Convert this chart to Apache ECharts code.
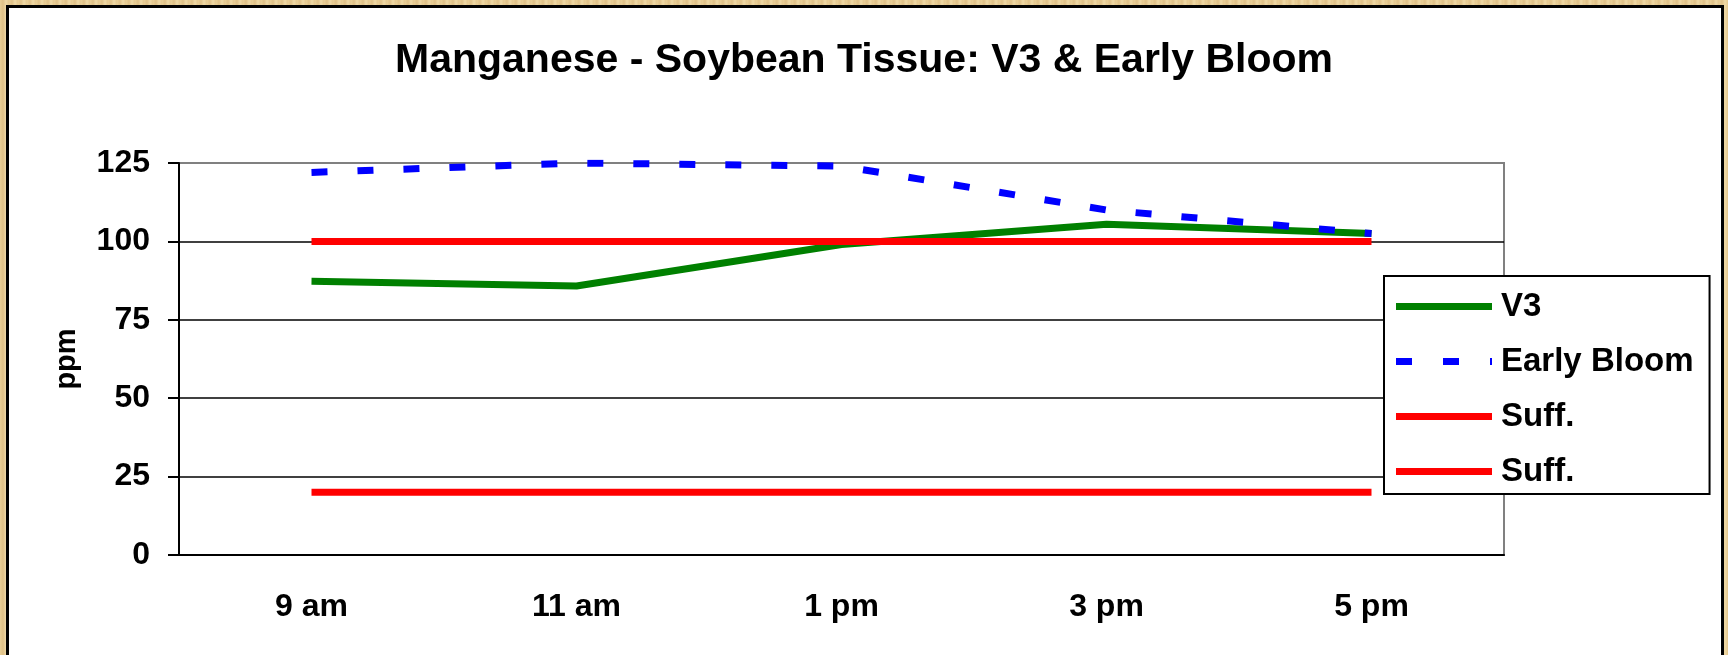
<!DOCTYPE html>
<html>
<head>
<meta charset="utf-8">
<title>Manganese - Soybean Tissue</title>
<script src="https://cdn.jsdelivr.net/npm/echarts@6/dist/echarts.min.js"></script>
<style>
  html, body { margin: 0; padding: 0; }
  body {
    width: 1728px; height: 655px; overflow: hidden; position: relative;
    background: repeating-linear-gradient(90deg, #e9cf97 0px, #dfc087 3px, #efd9a6 6px, #e4c78e 9px);
  }
  #frame {
    position: absolute; left: 6px; top: 5px; width: 1718px; height: 700px;
    box-sizing: border-box; border: 3px solid #000; background: #fff;
  }
  #mnChart { position: absolute; left: 0; top: 0; width: 1728px; height: 655px; }
</style>
</head>
<body>
<div id="frame"></div>
<div id="mnChart"></div>
<script>
// 时间点
const categories = ['9 am', '11 am', '1 pm', '3 pm', '5 pm']
// ppm values
const v3Values = [87.3, 85.8, 99, 105.5, 102.5]
const earlyBloomValues = [122, 125, 124, 110, 102.5]
const suffHigh = [100, 100, 100, 100, 100]
const suffLow = [20, 20, 20, 20, 20]
const yTicks = [0, 25, 50, 75, 100, 125]

const font = '"Liberation Sans", Arial, sans-serif'
// legend icons: solid bar, and dashed bar like the Excel one
const solidIcon = 'rect'
const dashIcon = 'path://M0,0h16v7h-16zM47,0h16v7h-16zM94,0h2v7h-2z'

const mnChart = echarts.init(document.getElementById('mnChart'))
mnChart.setOption({
    animation: false,
    backgroundColor: 'rgba(0,0,0,0)',
    textStyle: { fontFamily: font },
    title: {
        text: 'Manganese - Soybean Tissue: V3 & Early Bloom',
        left: 'center',
        top: 35,
        textStyle: { fontFamily: font, fontSize: 41, fontWeight: 'bold', color: '#000' }
    },
    legend: {
        orient: 'vertical',
        left: 1384,
        top: 276,
        padding: [14, 16, 6, 12],
        itemWidth: 96,
        itemHeight: 7,
        itemGap: 22,
        backgroundColor: '#fff',
        borderColor: '#000',
        borderWidth: 2,
        selectedMode: false,
        formatter: function (name) { return name.trim() },
        textStyle: { fontFamily: font, fontSize: 33, fontWeight: 'bold', color: '#000', lineHeight: 33, padding: [0, 0, 0, 4] },
        data: [
            { name: 'V3', icon: solidIcon },
            { name: 'Early Bloom', icon: dashIcon },
            { name: 'Suff.', icon: solidIcon },
            { name: 'Suff. ', icon: solidIcon }
        ]
    },
    grid: {
        left: 179,
        right: 224,
        top: 163,
        bottom: 100,
        show: true,
        backgroundColor: '#fff',
        borderColor: '#808080',
        borderWidth: 2
    },
    xAxis: {
        type: 'category',
        data: categories,
        boundaryGap: true,
        axisLine: { lineStyle: { color: '#000', width: 2 } },
        axisTick: { length: 11, lineStyle: { color: '#000', width: 2 } },
        axisLabel: { margin: 36, fontFamily: font, fontSize: 32, fontWeight: 'bold', color: '#000' },
        splitLine: { show: false }
    },
    yAxis: {
        type: 'value',
        min: yTicks[0],
        max: yTicks[yTicks.length - 1],
        interval: 25,
        name: 'ppm',
        nameLocation: 'middle',
        nameGap: 98,
        nameTextStyle: { fontFamily: font, fontSize: 29, fontWeight: 'bold', color: '#000' },
        axisLine: { show: true, lineStyle: { color: '#000', width: 2 } },
        axisTick: { show: true, length: 11, lineStyle: { color: '#000', width: 2 } },
        axisLabel: { margin: 29, fontFamily: font, fontSize: 32, fontWeight: 'bold', color: '#000' },
        splitLine: { show: true, showMaxLine: false, lineStyle: { color: '#000', width: 1.5 } }
    },
    series: [
        {
            name: 'V3',
            type: 'line',
            data: v3Values,
            symbol: 'none',
            color: '#008000',
            lineStyle: { color: '#008000', width: 7 }
        },
        {
            name: 'Early Bloom',
            type: 'line',
            data: earlyBloomValues,
            symbol: 'none',
            color: '#0000ff',
            lineStyle: { color: '#0000ff', width: 7, type: [16, 30], cap: 'butt' }
        },
        {
            name: 'Suff.',
            type: 'line',
            data: suffHigh,
            symbol: 'none',
            color: '#ff0000',
            lineStyle: { color: '#ff0000', width: 7 }
        },
        {
            name: 'Suff. ',
            type: 'line',
            data: suffLow,
            symbol: 'none',
            color: '#ff0000',
            lineStyle: { color: '#ff0000', width: 7 }
        }
    ]
})
</script>
</body>
</html>
